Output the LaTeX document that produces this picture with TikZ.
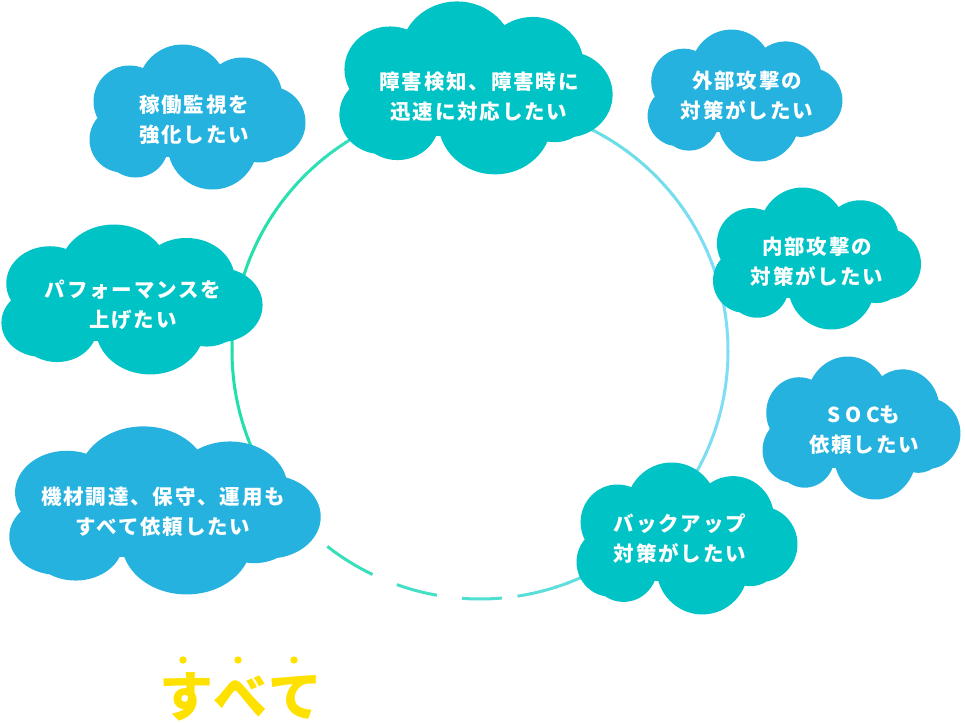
\documentclass[tikz,border=0pt]{standalone}
\usepackage{fontspec}
\usepackage{tikz}
\usetikzlibrary{calc}
\newfontfamily\jp{Noto Sans CJK JP}[LetterSpace=9]
\newfontfamily\jpbig{Noto Sans CJK JP}[LetterSpace=6]

\definecolor{cloudblue}{HTML}{25B2DF}
\definecolor{cloudteal}{HTML}{00C3C6}
\definecolor{ringleft}{HTML}{20E0A8}
\definecolor{ringright}{HTML}{80DDF7}
\definecolor{markyellow}{HTML}{FFE100}

\pgfdeclarelayer{ring}
\pgfdeclarelayer{puffs}
\pgfsetlayers{ring,puffs,main}

\tikzset{
  cloudtext/.style={text=white, align=center, inner sep=0pt,
                    font=\jp\bfseries\fontsize{20.5}{30}\selectfont},
  ringline/.style={line width=3pt, color=ringright!#1!ringleft},
}

% one cloud = a bunch of puffs round a text node
\newcommand{\puffcloud}[3]{%
  \begin{scope}[shift={(#1.center)}, #3]
    \fill[#2]
      (-15,-28) circle[radius=45]
      (-68,-16) circle[radius=36]
      (45,-20)  circle[radius=40]
      (72,5)    circle[radius=36]
      (-75,22)  circle[radius=33]
      (-62,27)  circle[radius=33]
      (15,27)   circle[radius=45]
      (62,15)   circle[radius=30];
    \fill[#2] (-70,-30) rectangle (70,40);
  \end{scope}}

\begin{document}
\begin{tikzpicture}[x=1pt, y=-1pt]
\useasboundingbox (0,0) rectangle (965,722);

% ── Texts ─────────────────────────────────────────────────────────────────────
\node[cloudtext] (watch)   at (194,120) {稼働監視を\\強化したい};
\node[cloudtext] (fault)   at (479,97)  {障害検知、障害時に\\迅速に対応したい};
\node[cloudtext] (outer)   at (747,96)  {外部攻撃の\\対策がしたい};
\node[cloudtext] (inner)   at (817,262) {内部攻撃の\\対策がしたい};
\node[cloudtext] (perf)    at (133,305) {パフォーマンスを\\上げたい};
\node[cloudtext] (soc)     at (864,430) {{\addfontfeature{LetterSpace=22}SOC}も\\依頼したい};
\node[cloudtext] (equip)   at (163,512) {機材調達、保守、運用も\\すべて依頼したい};
\node[cloudtext] (backup)  at (680,539) {バックアップ\\対策がしたい};

% ── Clouds ────────────────────────────────────────────────────────────────────
\begin{pgfonlayer}{puffs}
  \puffcloud{watch}{cloudblue}{shift={(3.5,-2.5)}}
  \puffcloud{fault}{cloudteal}{shift={(-3,-8.5)}, xscale=1.265, yscale=1.193}
  \puffcloud{outer}{cloudblue}{shift={(-2,0)}, xscale=0.902, yscale=0.91}
  \puffcloud{inner}{cloudteal}{shift={(0,-3)}, xscale=0.963, yscale=0.979}
  \puffcloud{perf}{cloudteal}{shift={(-1,-5)}, xscale=1.209, yscale=1.034}
  \puffcloud{soc}{cloudblue}{shift={(-2.5,-1.5)}, xscale=0.916, yscale=0.986}
  \puffcloud{equip}{cloudblue}{shift={(2,-1)}, xscale=1.442, yscale=1.159}
  \puffcloud{backup}{cloudteal}{shift={(7,0)}, xscale=1.023, yscale=1.048}
\end{pgfonlayer}

% ── Ring behind the clouds ────────────────────────────────────────────────────
\coordinate (ctr) at (480,351);
\begin{pgfonlayer}{ring}
  \foreach \a in {135,138,...,438} {
    \pgfmathsetmacro\t{50+50*cos(\a+1.5)}
    \draw[ringline=\t] ($(ctr)+(\a:248)$) arc[start angle=\a, end angle=\a+3.3, radius=248];
  }
  \foreach \s/\e in {115.7/128, 100/109.6, 84.9/94.2} {
    \pgfmathsetmacro\t{50+50*cos((\s+\e)/2)}
    \draw[ringline=\t] ($(ctr)+(\s:248)$) arc[start angle=\s, end angle=\e, radius=248];
  }
\end{pgfonlayer}

% ── すべて with emphasis dots ─────────────────────────────────────────────────
\node[text=markyellow, inner sep=0pt,
      font=\jpbig\bfseries\fontsize{54}{54}\selectfont] (all) at (241,697) {すべて};
\foreach \x in {183,238,294}
  \fill[markyellow] (\x,660) circle[radius=3.7];

\end{tikzpicture}
\end{document}
